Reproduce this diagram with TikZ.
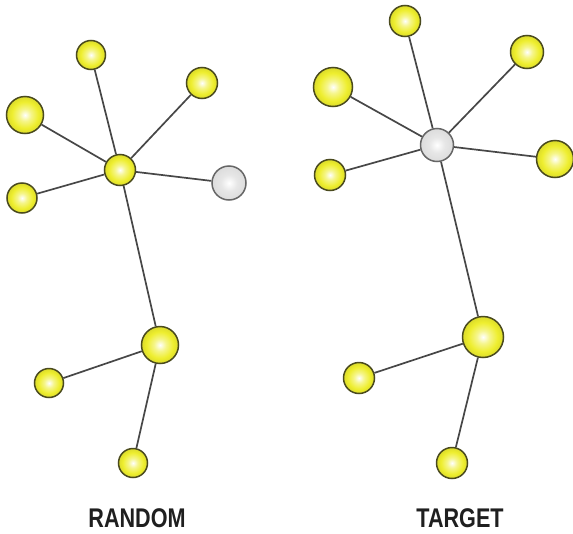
\documentclass[tikz,border=0pt]{standalone}
\usepackage{fontspec}
\newfontfamily\labelfont[FakeStretch=0.8]{Liberation Sans}
\definecolor{ylw}{HTML}{EEEE2E}
\definecolor{ylwrim}{HTML}{4A4A1E}
\definecolor{gry}{HTML}{DCDCDC}
\definecolor{gryrim}{HTML}{666666}
\definecolor{edgecol}{HTML}{474747}
\pgfdeclareradialshading{yball}{\pgfpoint{0bp}{0bp}}{color(0bp)=(white); color(8bp)=(ylw!55!white); color(18bp)=(ylw); color(25bp)=(ylw!92!black); color(50bp)=(ylw!92!black)}
\pgfdeclareradialshading{gball}{\pgfpoint{0bp}{0bp}}{color(0bp)=(white); color(12bp)=(gry!70!white); color(25bp)=(gry); color(50bp)=(gry)}
\tikzset{
  vtx/.style={circle, inner sep=0pt, minimum size=#1, draw=ylwrim, line width=1.5pt, shading=yball},
  hubgray/.style={circle, inner sep=0pt, minimum size=#1, draw=gryrim, line width=1.5pt, shading=gball},
  link/.style={draw=edgecol, line width=1.7pt},
  caption/.style={font=\labelfont\bfseries\fontsize{27}{30}\selectfont, text=black!88}
}
\begin{document}
\begin{tikzpicture}[x=1pt,y=-1pt]
\useasboundingbox[fill=white] (0,0) rectangle (573,533);
% random removal: left graph
\node[vtx=31pt] (a0) at (120,170) {};
\node[vtx=29pt] (a1) at (91,55) {};
\node[vtx=31pt] (a2) at (202,83) {};
\node[vtx=37pt] (a3) at (25,115) {};
\node[vtx=30pt] (a4) at (22,198) {};
\node[hubgray=34pt] (a5) at (229,183) {};
\node[vtx=37pt] (a6) at (160,345) {};
\node[vtx=29pt] (a7) at (49,383) {};
\node[vtx=29pt] (a8) at (133,463) {};
\foreach \n in {a1,a2,a3,a4,a5,a6} \path[link] (a0) -- (\n);
\path[link] (a6) -- (a7);
\path[link] (a6) -- (a8);
% targeted removal: right graph
\node[hubgray=33pt] (b0) at (437,145) {};
\node[vtx=31pt] (b1) at (405,21) {};
\node[vtx=33pt] (b2) at (527,52) {};
\node[vtx=39pt] (b3) at (333,87) {};
\node[vtx=31pt] (b4) at (330,175) {};
\node[vtx=37pt] (b5) at (555,159) {};
\node[vtx=41pt] (b6) at (483,337) {};
\node[vtx=31pt] (b7) at (359,378) {};
\node[vtx=31pt] (b8) at (452,463) {};
\foreach \n in {b1,b2,b3,b4,b5,b6} \path[link] (b0) -- (\n);
\path[link] (b6) -- (b7);
\path[link] (b6) -- (b8);
% captions
\node[caption] (capA) at (137,518) {RANDOM};
\node[caption] (capB) at (460,518) {TARGET};
\end{tikzpicture}
\end{document}
